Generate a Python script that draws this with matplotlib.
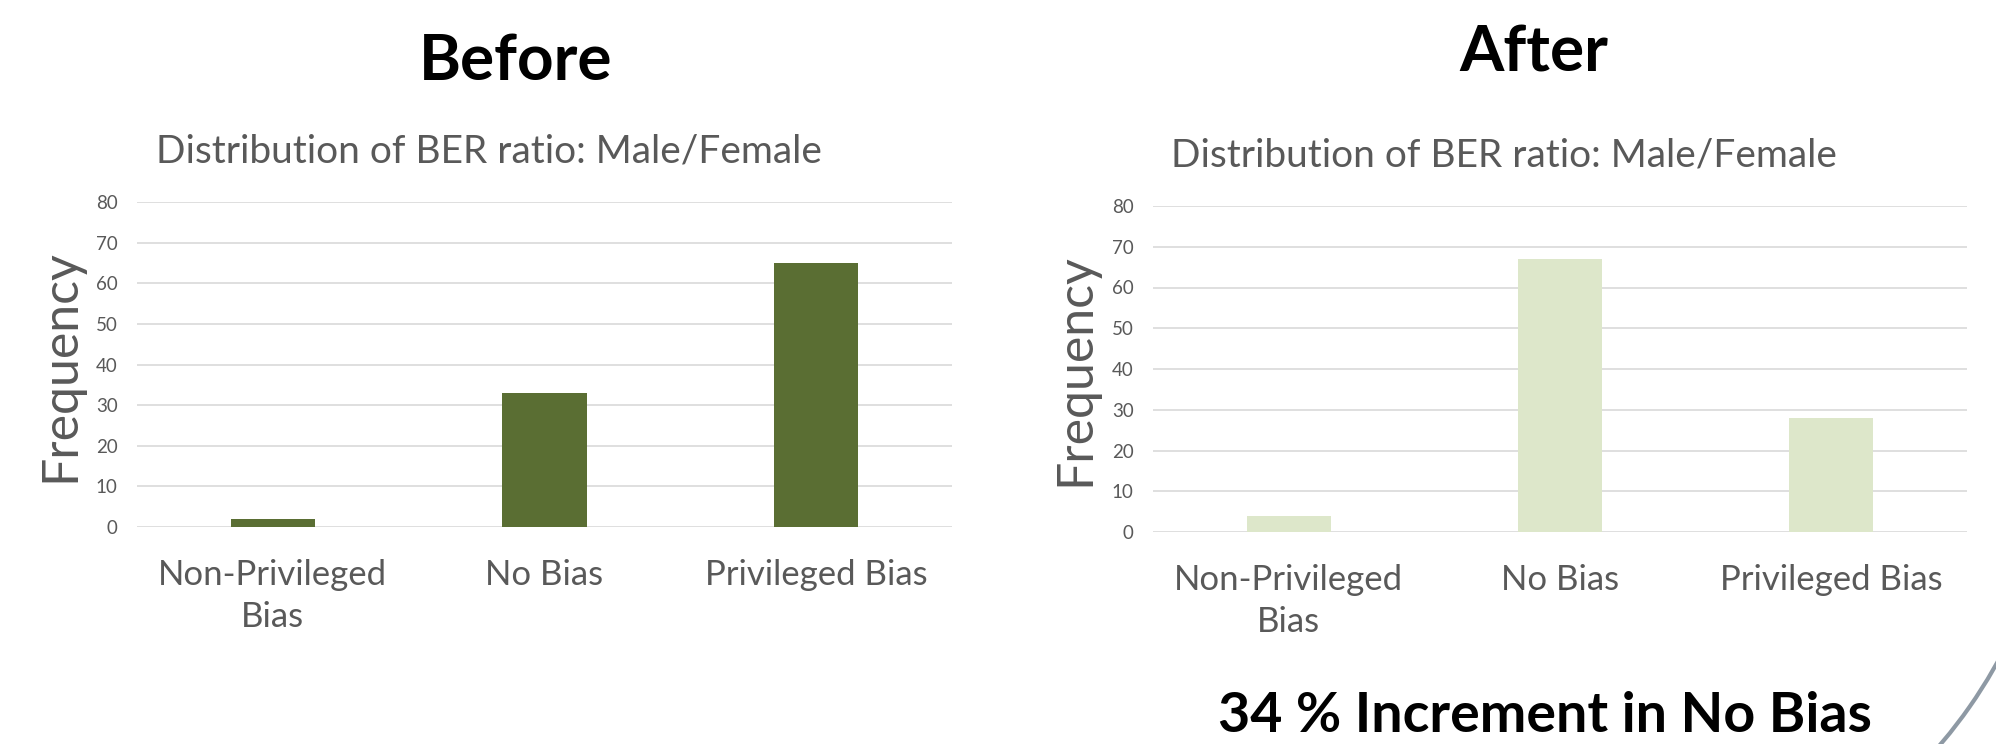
import matplotlib
matplotlib.use("Agg")
import matplotlib.pyplot as plt
from matplotlib.patches import Arc

plt.rcParams['font.family'] = ['Lato', 'DejaVu Sans']

# Data
categories = ["Non-Privileged\nBias", "No Bias", "Privileged Bias"]
before_counts = [2, 33, 65]
after_counts = [4, 67, 28]
y_ticks = [0, 10, 20, 30, 40, 50, 60, 70, 80]

W, H = 1996, 744
DPI = 100
fig = plt.figure(figsize=(W / DPI, H / DPI), dpi=DPI)
fig.patch.set_facecolor("white")

TXT_GRAY = "#595959"
GRID = "#d9d9d9"


def px_axes(left, top, right, bottom):
    return fig.add_axes([left / W, 1 - bottom / H, (right - left) / W, (bottom - top) / H])


def style_chart(ax, values, color):
    x = range(len(categories))
    ax.bar(x, values, width=0.31, color=color, zorder=3)
    ax.set_xlim(-0.5, len(categories) - 0.5)
    ax.set_ylim(0, 80)
    ax.set_yticks(y_ticks)
    ax.set_yticklabels([str(v) for v in y_ticks], fontsize=13.5, color=TXT_GRAY)
    ax.set_xticks(list(x))
    ax.set_xticklabels(categories, fontsize=25, color=TXT_GRAY, linespacing=1.4)
    ax.tick_params(axis="y", length=0, pad=14)
    ax.tick_params(axis="x", length=0, pad=23)
    for s in ax.spines.values():
        s.set_visible(False)
    ax.grid(axis="y", color=GRID, linewidth=1.2, zorder=0)
    ax.set_axisbelow(True)
    ax.patch.set_alpha(0)


ax1 = px_axes(137, 202, 952, 527)
style_chart(ax1, before_counts, "#5a6e33")

ax2 = px_axes(1153, 206, 1967, 532)
style_chart(ax2, after_counts, "#dde7ca")

# Overlay in pixel coordinates for headings and decoration
ov = fig.add_axes([0, 0, 1, 1], zorder=-1)
ov.set_xlim(0, W)
ov.set_ylim(H, 0)
ov.axis("off")

ov.text(516, 80, "Before", fontsize=46, fontweight="bold", color="black",
        ha="center", va="baseline")
ov.text(1534, 71, "After", fontsize=46, fontweight="bold", color="black",
        ha="center", va="baseline")

ov.text(156, 162, "Distribution of BER ratio: Male/Female", fontsize=28,
        color=TXT_GRAY, ha="left", va="baseline")
ov.text(1171, 166, "Distribution of BER ratio: Male/Female", fontsize=28,
        color=TXT_GRAY, ha="left", va="baseline")

ov.text(60, 366, "Frequency", fontsize=36, color=TXT_GRAY, rotation=90,
        ha="center", va="center")
ov.text(1075, 370, "Frequency", fontsize=36, color=TXT_GRAY, rotation=90,
        ha="center", va="center")

ov.text(1545, 732, "34 % Increment in No Bias", fontsize=40, fontweight="bold",
        color="black", ha="center", va="baseline")

ov.add_patch(Arc((1560, 420), 1000, 1000, theta1=15, theta2=55,
                 color="#8e99a4", linewidth=3))

fig.savefig("out.png", dpi=DPI, facecolor="white")
